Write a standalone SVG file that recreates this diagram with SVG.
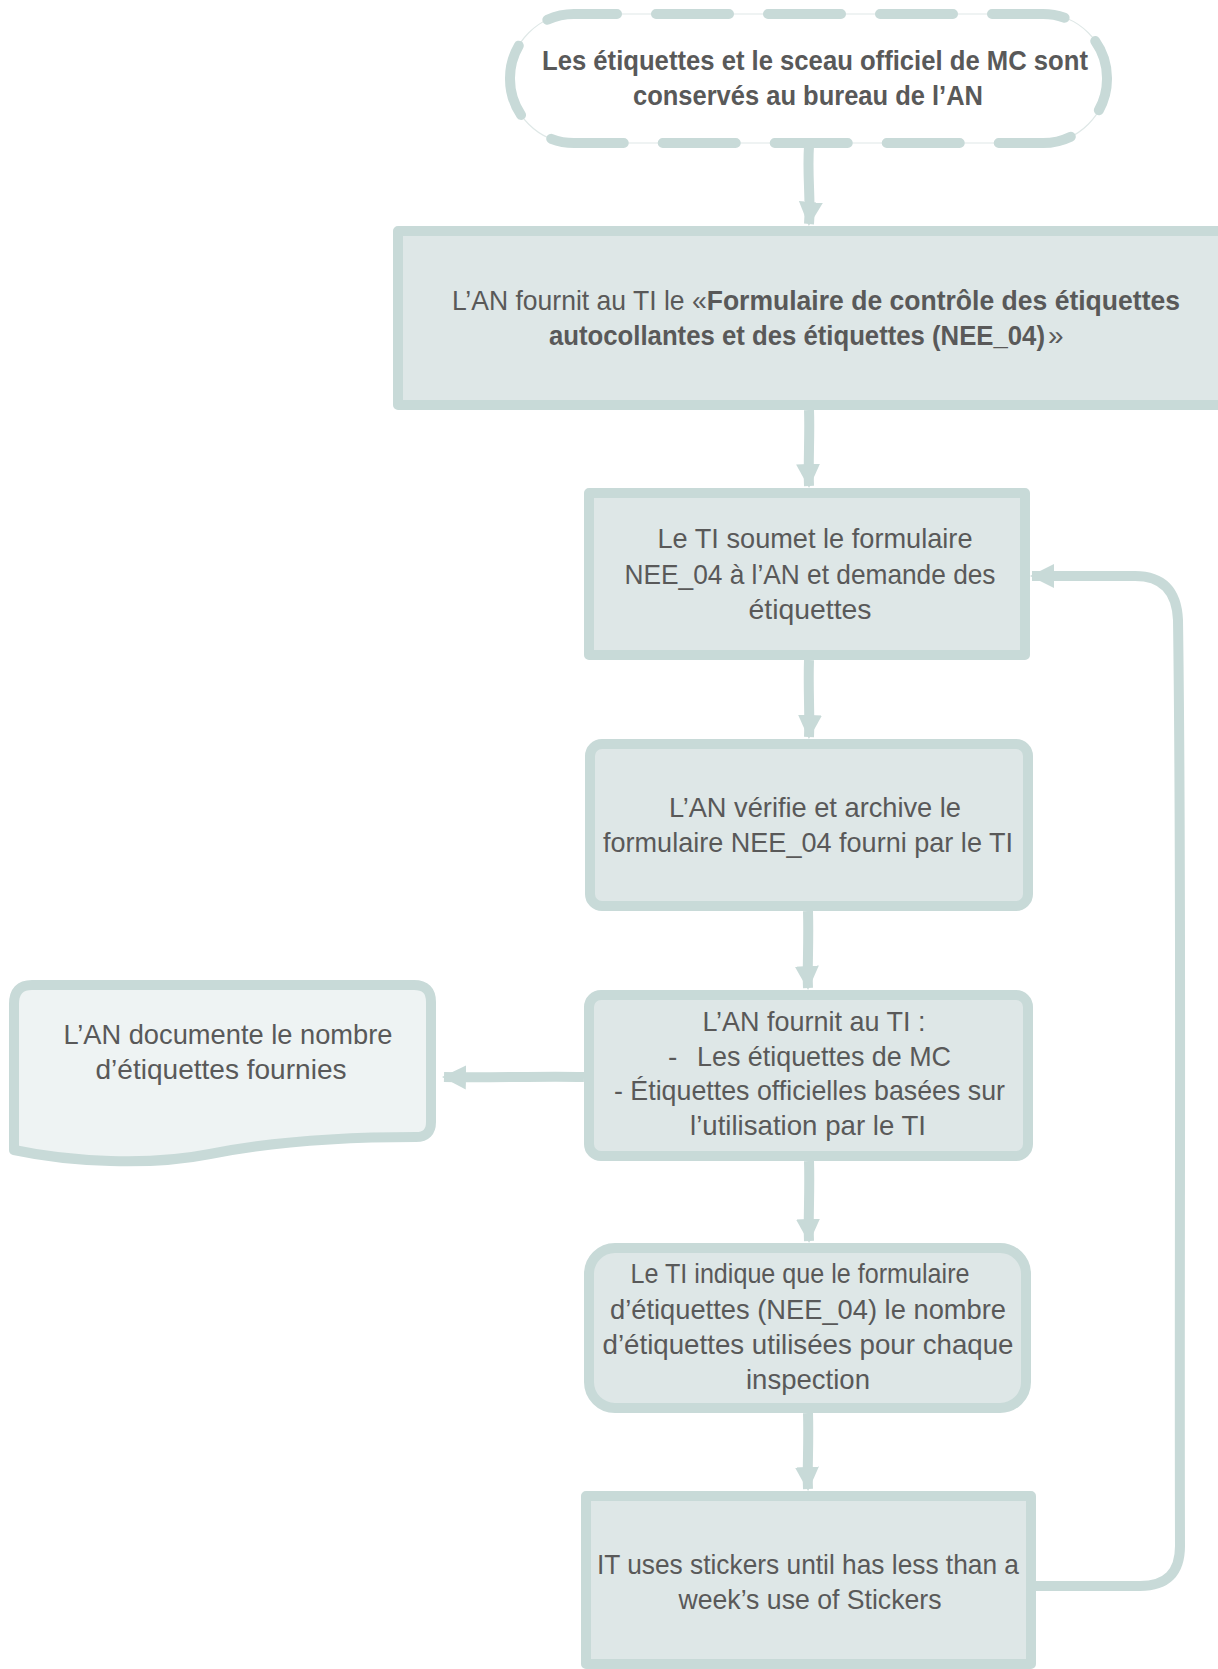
<svg xmlns="http://www.w3.org/2000/svg" width="1218" height="1669" viewBox="0 0 1218 1669">
  <style>
    .box { fill: #dee7e7; stroke: #c8dad8; stroke-width: 10; stroke-linejoin: round; }
    .doc { fill: #eef3f3; stroke: #c8dad8; stroke-width: 10; stroke-linejoin: round; }
    .term { fill: none; stroke: #c8dad8; stroke-width: 10; stroke-dasharray: 73 39; stroke-dashoffset: 30; stroke-linecap: round; }
    .hair { fill: #ffffff; stroke: #dfe8e7; stroke-width: 1.2; }
    .edge { fill: none; stroke: #c8dad8; stroke-width: 10; stroke-linejoin: round; }
    text { font-family: "Liberation Sans", Arial, sans-serif; font-size: 28px; fill: #595959; }
    .c { text-anchor: middle; }
    .b { font-weight: bold; }
  </style>
  <defs>
    <marker id="arrow" markerUnits="userSpaceOnUse" markerWidth="26" markerHeight="26" viewBox="0 0 26 26" refX="22" refY="13" orient="auto">
      <path d="M0,1 L24,13 L0,25 Z" fill="#c8dad8"/>
    </marker>
  </defs>

  <!-- connectors -->
  <g id="connectors">
    <path class="edge" d="M809,146 C807,175 811,200 809,224" marker-end="url(#arrow)"/>
    <path class="edge" d="M809,410 C810,435 808,462 809,486" marker-end="url(#arrow)"/>
    <path class="edge" d="M809,660 C808,690 810,714 809,737" marker-end="url(#arrow)"/>
    <path class="edge" d="M808,911 C809,945 807,968 808,988" marker-end="url(#arrow)"/>
    <path class="edge" d="M584,1077 C540,1076 490,1078 444,1077" marker-end="url(#arrow)"/>
    <path class="edge" d="M809,1161 C810,1192 808,1218 809,1241" marker-end="url(#arrow)"/>
    <path class="edge" d="M808,1413 C809,1445 807,1468 808,1489" marker-end="url(#arrow)"/>
    <path class="edge" d="M1036,1586 H1140 Q1180,1586 1180,1546 C1179,1200 1182,900 1178,620 Q1176,576 1135,576 H1032" marker-end="url(#arrow)"/>
  </g>

  <!-- start terminator -->
  <g id="n1">
    <rect class="hair" x="510" y="14" width="597" height="129" rx="64"/>
    <rect class="term" x="510" y="14" width="597" height="129" rx="64"/>
    <text class="c b" x="815" y="70" textLength="546" lengthAdjust="spacingAndGlyphs">Les étiquettes et le sceau officiel de MC sont</text>
    <text class="c b" x="808" y="105" textLength="350" lengthAdjust="spacingAndGlyphs">conservés au bureau de l’AN</text>
  </g>

  <g id="n2">
    <rect class="box" x="398" y="231" width="825" height="174"/>
    <text x="452" y="310" textLength="728" lengthAdjust="spacingAndGlyphs">L’AN fournit au TI le «<tspan class="b">Formulaire de contrôle des étiquettes</tspan></text>
    <text y="345"><tspan class="b" x="549" textLength="496" lengthAdjust="spacingAndGlyphs">autocollantes et des étiquettes (NEE_04)</tspan><tspan x="1048">»</tspan></text>
  </g>

  <g id="n3">
    <rect class="box" x="589" y="493" width="436" height="162"/>
    <text class="c" x="815" y="548" textLength="315" lengthAdjust="spacingAndGlyphs">Le TI soumet le formulaire</text>
    <text class="c" x="810" y="584" textLength="371" lengthAdjust="spacingAndGlyphs">NEE_04 à l’AN et demande des</text>
    <text class="c" x="810" y="619" textLength="123" lengthAdjust="spacingAndGlyphs">étiquettes</text>
  </g>

  <g id="n4">
    <rect class="box" x="590" y="744" width="438" height="162" rx="12"/>
    <text class="c" x="815" y="817" textLength="292" lengthAdjust="spacingAndGlyphs">L’AN vérifie et archive le</text>
    <text class="c" x="808" y="852" textLength="410" lengthAdjust="spacingAndGlyphs">formulaire NEE_04 fourni par le TI</text>
  </g>

  <g id="n5">
    <rect class="box" x="589" y="995" width="439" height="161" rx="12"/>
    <text class="c" x="814" y="1031" textLength="223" lengthAdjust="spacingAndGlyphs">L’AN fournit au TI :</text>
    <text x="668" y="1066">-</text>
    <text x="697" y="1066" textLength="254" lengthAdjust="spacingAndGlyphs">Les étiquettes de MC</text>
    <text x="614" y="1100" textLength="391" lengthAdjust="spacingAndGlyphs">- Étiquettes officielles basées sur</text>
    <text class="c" x="808" y="1135" textLength="236" lengthAdjust="spacingAndGlyphs">l’utilisation par le TI</text>
  </g>

  <g id="n6">
    <path class="doc" d="M32,985 H414 Q431,985 431,1002 V1122 Q431,1137 416,1137 C340,1137 270,1142 210,1154 C150,1166 70,1162 14,1150 V1004 Q14,985 32,985 Z"/>
    <text class="c" x="228" y="1044" textLength="329" lengthAdjust="spacingAndGlyphs">L’AN documente le nombre</text>
    <text class="c" x="221" y="1079" textLength="251" lengthAdjust="spacingAndGlyphs">d’étiquettes fournies</text>
  </g>

  <g id="n7">
    <rect class="box" x="589" y="1248" width="437" height="160" rx="26"/>
    <text class="c" x="800" y="1283" textLength="339" lengthAdjust="spacingAndGlyphs">Le TI indique que le formulaire</text>
    <text class="c" x="808" y="1319" textLength="396" lengthAdjust="spacingAndGlyphs">d’étiquettes (NEE_04) le nombre</text>
    <text class="c" x="808" y="1354" textLength="411" lengthAdjust="spacingAndGlyphs">d’étiquettes utilisées pour chaque</text>
    <text class="c" x="808" y="1389" textLength="124" lengthAdjust="spacingAndGlyphs">inspection</text>
  </g>

  <g id="n8">
    <rect class="box" x="586" y="1496" width="445" height="168"/>
    <text class="c" x="808" y="1574" textLength="422" lengthAdjust="spacingAndGlyphs">IT uses stickers until has less than a</text>
    <text class="c" x="810" y="1609" textLength="263" lengthAdjust="spacingAndGlyphs">week’s use of Stickers</text>
  </g>
</svg>
